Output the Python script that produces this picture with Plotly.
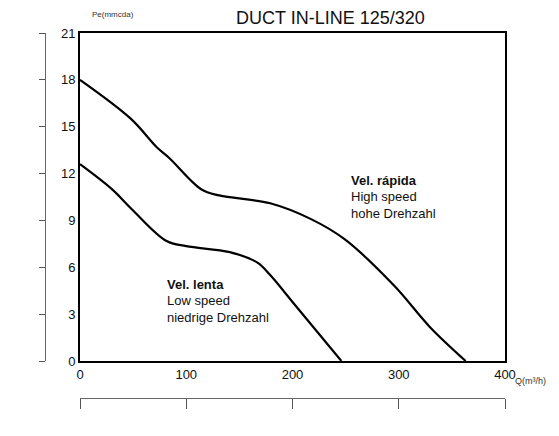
import plotly.graph_objects as go

# Data
high_q = [0, 48, 72, 84, 114, 131, 179, 217, 249, 296, 329, 363]
high_p = [18, 15.5, 13.7, 13.0, 11.0, 10.6, 10.1, 9.1, 7.8, 4.8, 2.2, 0]
low_q = [0, 30, 49, 81, 100, 141, 167, 179, 201, 246]
low_p = [12.6, 11.0, 9.7, 7.7, 7.35, 6.97, 6.3, 5.5, 3.7, 0]
x_ticks = [0, 100, 200, 300, 400]
y_ticks = [0, 3, 6, 9, 12, 15, 18, 21]
title_text = "DUCT IN-LINE 125/320"
high_label = ["Vel. rápida", "High speed", "hohe Drehzahl"]
low_label = ["Vel. lenta", "Low speed", "niedrige Drehzahl"]

OFF = 8  # page body margin
W, H = 559 - OFF, 436 - OFF
# plot area in reference pixels: left 80, right 505, top 33, bottom 361
ML, MT = 40 - OFF, 33 - OFF
MR = 559 - 505
MB = 436 - 400
pw = W - ML - MR
ph = H - MT - MB
x_dom0 = (80 - 40) / pw
y_dom0 = (400 - 361) / ph

font = "Liberation Sans, Arial, sans-serif"

fig = go.Figure()
line_style = dict(color="black", width=2.2, shape="spline", smoothing=1.0)
fig.add_trace(go.Scatter(x=high_q, y=high_p, mode="lines", line=line_style,
                         showlegend=False, hoverinfo="skip"))
fig.add_trace(go.Scatter(x=low_q, y=low_p, mode="lines", line=line_style,
                         showlegend=False, hoverinfo="skip"))
fig.add_trace(go.Scatter(x=[0], y=[0], xaxis="x2", yaxis="y2", mode="markers",
                         marker=dict(opacity=0), showlegend=False, hoverinfo="skip"))

fig.update_layout(
    width=W, height=H,
    margin=dict(l=ML, r=MR, t=MT, b=MB),
    paper_bgcolor="white", plot_bgcolor="white",
    font=dict(family=font, color="#111"),
    xaxis=dict(domain=[x_dom0, 1], range=[0, 400], tickvals=x_ticks,
               showgrid=False, zeroline=False, showline=True, linecolor="black",
               linewidth=2, mirror=True, ticks="", ticklen=0,
               tickfont=dict(size=13, family=font, color="#111"), anchor="y"),
    yaxis=dict(domain=[y_dom0, 1], range=[0, 21], tickvals=y_ticks,
               showgrid=False, zeroline=False, showline=True, linecolor="black",
               linewidth=2, mirror=True, ticks="",
               tickfont=dict(size=13, family=font, color="#111"), anchor="x"),
    xaxis2=dict(domain=[x_dom0 - 0.01, 1], range=[0, 400], tickvals=x_ticks,
                overlaying="x", anchor="free", position=0.005, side="bottom",
                showline=True, linecolor="#666", linewidth=1, ticks="outside",
                ticklen=10, tickcolor="#555", showticklabels=False,
                showgrid=False, zeroline=False),
    yaxis2=dict(range=[0, 21], tickvals=y_ticks, overlaying="y", anchor="free",
                position=(45 - 40) / pw, side="left", showline=True,
                linecolor="#666", linewidth=1, ticks="outside", ticklen=6,
                tickcolor="#555", showticklabels=False, showgrid=False,
                zeroline=False),
)

ann = []
ann.append(dict(text=title_text, x=330, y=18,
                font=dict(size=18, family=font, color="#111")))
ann.append(dict(text="Pe(mmcda)", x=113, y=14,
                font=dict(size=8, family=font, color="#333")))
ann.append(dict(text="Q(m³/h)", x=530, y=381,
                font=dict(size=9, family=font, color="#333")))

def add_block(lines, x0, y0):
    for i, t in enumerate(lines):
        ann.append(dict(text=("<b>%s</b>" % t) if i == 0 else t,
                        x=x0, y=y0 + i * 16.5, xanchor="left",
                        font=dict(size=13, family=font, color="#111")))

add_block(high_label, 349, 180)
add_block(low_label, 165, 284)

# convert reference pixel coords to paper coords
for a in ann:
    a["showarrow"] = False
    a["xref"] = "paper"
    a["yref"] = "paper"
    a["x"] = (a["x"] - 40) / pw
    a["y"] = (400 - a["y"]) / ph
    a.setdefault("xanchor", "center")
    a["yanchor"] = "middle"
fig.update_layout(annotations=ann)

fig.write_html("out.html")
